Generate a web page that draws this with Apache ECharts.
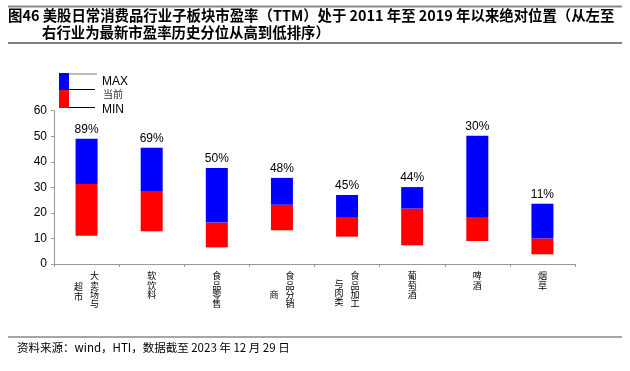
<!DOCTYPE html>
<html>
<head>
<meta charset="utf-8">
<script src="https://cdn.jsdelivr.net/npm/echarts@6/dist/echarts.min.js"></script>
<style>
html,body{margin:0;padding:0;background:#fff;}
#c{width:630px;height:371px;}
</style>
</head>
<body>
<div id="c"></div>
<script>
// ---- data ----
var categories = ['大卖场与超市','软饮料','食品零售','食品分销商','食品加工与肉类','葡萄酒','啤酒','烟草'];
var labelRight = ['大卖场与','软饮料','食品零售','食品分销','食品加工','葡萄酒','啤酒','烟草'];
var labelLeft  = ['超市','','','商','与肉类','','',''];
var leftOffset = ['s1','','','s4','s5','','',''];
var maxVals = [49.0, 45.5, 37.6, 33.7, 27.0, 30.1, 50.2, 23.6];
var curVals = [31.3, 28.6, 16.2, 23.2, 18.4, 21.7, 18.1, 10.0];
var minVals = [11.1, 12.8, 6.5, 13.2, 10.7, 7.3, 9.0, 3.8];
var pctLabels = ['89%','69%','50%','48%','45%','44%','30%','11%'];
var yTicks = [0, 10, 20, 30, 40, 50, 60];

var redVals = curVals.map(function(v, i){ return +(v - minVals[i]).toFixed(2); });
var blueVals = maxVals.map(function(v, i){ return +(v - curVals[i]).toFixed(2); });

var cjk = '"Noto Sans CJK SC", sans-serif';
var lat = '"Liberation Sans", Arial, sans-serif';

function vert(text, style){
  return text.split('').map(function(ch){ return '{' + style + '|' + ch + '}'; }).join('\n');
}

var rich = {
  c: {fontFamily: cjk, fontSize: 9, lineHeight: 9.4, color: '#000'},
  r: {fontFamily: cjk, fontSize: 9, lineHeight: 9.4, color: '#000', padding: [0, 0, 0, 16]},
  l: {fontFamily: cjk, fontSize: 9, lineHeight: 9.4, color: '#000', padding: [0, 16, 0, 0]},
  s1: {fontSize: 1, lineHeight: 11},
  s4: {fontSize: 1, lineHeight: 18.5},
  s5: {fontSize: 1, lineHeight: 7.5}
};

var chart = echarts.init(document.getElementById('c'));
var option = {
  animation: false,
  backgroundColor: '#fff',
  title: [
    {text: '图46 美股日常消费品行业子板块市盈率（TTM）处于 2011 年至 2019 年以来绝对位置（从左至', left: 8, top: 7.5, padding: 0,
     textStyle: {fontFamily: cjk, fontSize: 14.4, fontWeight: 'bold', color: '#000', lineHeight: 17}},
    {text: '右行业为最新市盈率历史分位从高到低排序）', left: 42, top: 24.5, padding: 0,
     textStyle: {fontFamily: cjk, fontSize: 14.4, fontWeight: 'bold', color: '#000', lineHeight: 17}},
    {text: '资料来源：wind，HTI，数据截至 2023 年 12 月 29 日', left: 17, top: 341, padding: 0,
     textStyle: {fontFamily: cjk, fontSize: 11.5, fontWeight: 'normal', color: '#000', lineHeight: 14}}
  ],
  grid: {left: 54, right: 55, top: 110.7, bottom: 107, containLabel: false},
  xAxis: [
    {type: 'category', data: categories,
     axisLine: {lineStyle: {color: '#999', width: 1}},
     axisTick: {show: true, length: 3, lineStyle: {color: '#999'}},
     axisLabel: {interval: 0, margin: 7, rich: rich,
       formatter: function(v, i){ return vert(labelRight[i], labelLeft[i] ? 'r' : 'c'); }}
    },
    {type: 'category', data: categories, position: 'bottom',
     axisLine: {show: false}, axisTick: {show: false}, splitLine: {show: false},
     axisLabel: {interval: 0, margin: 7, rich: rich,
       formatter: function(v, i){
         if (!labelLeft[i]) return '';
         return '{' + leftOffset[i] + '| }\n' + vert(labelLeft[i], 'l');
       }}
    }
  ],
  yAxis: {type: 'value', min: yTicks[0], max: yTicks[yTicks.length - 1], interval: 10,
    axisLine: {show: true, lineStyle: {color: '#999'}},
    axisTick: {show: true, length: 3, lineStyle: {color: '#999'}},
    splitLine: {show: false},
    axisLabel: {fontFamily: lat, fontSize: 12, color: '#000', margin: 7}
  },
  series: [
    {type: 'bar', stack: 'a', data: minVals, barWidth: 22, itemStyle: {color: 'transparent'}, silent: true},
    {type: 'bar', stack: 'a', data: redVals, barWidth: 22, itemStyle: {color: '#FF0000'}},
    {type: 'bar', stack: 'a', data: blueVals, barWidth: 22, itemStyle: {color: '#0000FF'},
     label: {show: true, position: 'top', distance: 3, fontFamily: lat, fontSize: 12, color: '#000',
       formatter: function(p){ return pctLabels[p.dataIndex]; }}}
  ],
  graphic: [
    {type: 'line', shape: {x1: 8, y1: 6.5, x2: 622, y2: 6.5}, style: {stroke: '#888', lineWidth: 2}},
    {type: 'line', shape: {x1: 8, y1: 43, x2: 622, y2: 43}, style: {stroke: '#000', lineWidth: 1.2}},
    {type: 'line', shape: {x1: 8, y1: 337, x2: 622, y2: 337}, style: {stroke: '#888', lineWidth: 1.5}},
    {type: 'rect', shape: {x: 59, y: 73, width: 10, height: 17}, style: {fill: '#0000FF'}},
    {type: 'rect', shape: {x: 59, y: 90, width: 10, height: 18}, style: {fill: '#FF0000'}},
    {type: 'line', shape: {x1: 69, y1: 74, x2: 97, y2: 74}, style: {stroke: '#777', lineWidth: 1}},
    {type: 'line', shape: {x1: 69, y1: 89.5, x2: 95, y2: 89.5}, style: {stroke: '#000', lineWidth: 1}},
    {type: 'line', shape: {x1: 69, y1: 107.5, x2: 95, y2: 107.5}, style: {stroke: '#000', lineWidth: 1}},
    {type: 'text', x: 102, y: 81.5, style: {text: 'MAX', fontFamily: lat, fontSize: 12, fill: '#000', textVerticalAlign: 'middle', verticalAlign: 'middle'}},
    {type: 'text', x: 103, y: 94.5, style: {text: '当前', fontFamily: cjk, fontSize: 10, fill: '#333', textVerticalAlign: 'middle', verticalAlign: 'middle'}},
    {type: 'text', x: 102, y: 109.5, style: {text: 'MIN', fontFamily: lat, fontSize: 12, fill: '#000', textVerticalAlign: 'middle', verticalAlign: 'middle'}}
  ]
};
chart.setOption(option);
</script>
</body>
</html>
